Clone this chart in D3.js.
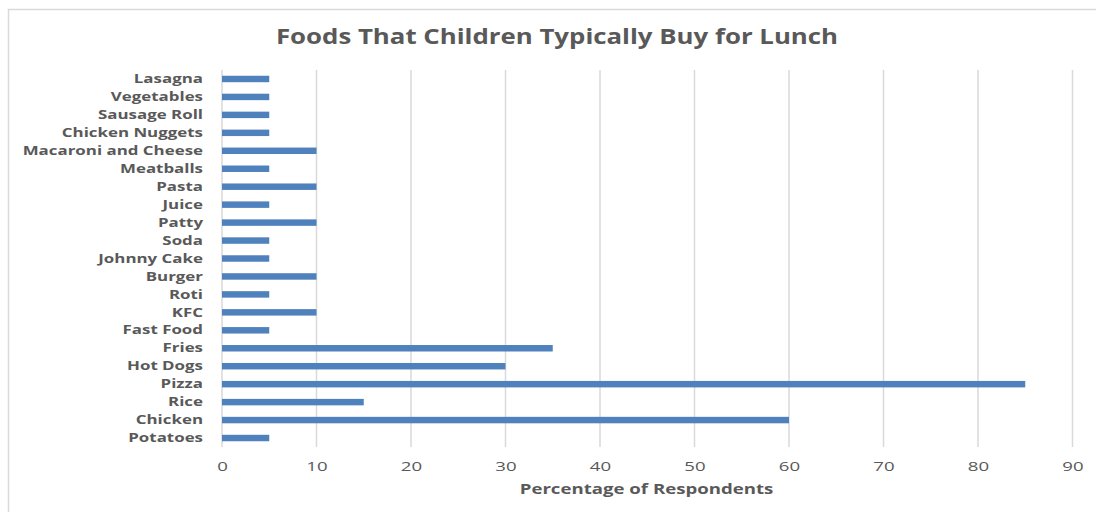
<!DOCTYPE html>
<html>
<head>
<meta charset="utf-8">
<script src="https://cdn.jsdelivr.net/npm/d3@7"></script>
<style>
  html, body { margin: 0; padding: 0; background: #fff; }
  svg { display: block; font-family: "Open Sans", sans-serif; }
</style>
</head>
<body>
<svg id="chart" width="1096" height="512"></svg>
<script>
// Foods children typically buy for lunch, top to bottom as listed
const categories = ["Lasagna", "Vegetables", "Sausage Roll", "Chicken Nuggets", "Macaroni and Cheese",
  "Meatballs", "Pasta", "Juice", "Patty", "Soda", "Johnny Cake", "Burger", "Roti", "KFC",
  "Fast Food", "Fries", "Hot Dogs", "Pizza", "Rice", "Chicken", "Potatoes"];
const percentages = [5, 5, 5, 5, 10, 5, 10, 5, 10, 5, 5, 10, 5, 10, 5, 35, 30, 85, 15, 60, 5];
const xTicks = [0, 10, 20, 30, 40, 50, 60, 70, 80, 90];
const chartTitle = "Foods That Children Typically Buy for Lunch";
const xTitle = "Percentage of Respondents";

const svg = d3.select("#chart");
const plotLeft = 222, plotRight = 1072.5, plotTop = 70, plotBottom = 447;
const textColor = "#595959";

// outer chart border
svg.append("rect")
  .attr("x", 8.5).attr("y", 9.5).attr("width", 1100).attr("height", 520)
  .attr("fill", "none").attr("stroke", "#d9d9d9").attr("stroke-width", 1.5);

const x = d3.scaleLinear().domain([0, 90]).range([plotLeft, plotRight]);
const y = d3.scaleBand().domain(categories).range([plotTop, plotBottom]).paddingInner(0.64).paddingOuter(0.32);

// vertical gridlines
svg.append("g").selectAll("line").data(xTicks).join("line")
  .attr("x1", d => x(d)).attr("x2", d => x(d))
  .attr("y1", plotTop).attr("y2", plotBottom)
  .attr("stroke", "#d9d9d9").attr("stroke-width", 1.5);

// bars
svg.append("g").selectAll("rect").data(categories).join("rect")
  .attr("x", x(0))
  .attr("y", d => y(d))
  .attr("width", (d, i) => x(percentages[i]) - x(0))
  .attr("height", y.bandwidth())
  .attr("fill", "#4f81bd");

// category axis (wide lettering)
const yAxis = svg.append("g")
  .attr("transform", `translate(${plotLeft - 19},0)`)
  .call(d3.axisLeft(y).tickSize(0).tickPadding(0));
yAxis.select(".domain").remove();
yAxis.selectAll("text")
  .attr("fill", textColor).attr("font-size", 13).attr("font-weight", 700)
  .attr("font-family", "Open Sans, sans-serif")
  .attr("transform", "scale(1.3,1)");

// value axis
const xAxis = svg.append("g")
  .attr("transform", `translate(0,${plotBottom})`)
  .call(d3.axisBottom(x).tickValues(xTicks).tickSize(0).tickPadding(14));
xAxis.select(".domain").remove();
xAxis.selectAll("text")
  .attr("fill", textColor).attr("font-size", 13.5)
  .attr("font-family", "Open Sans, sans-serif")
  .attr("transform", "scale(1.38,1)");

// titles
svg.append("g").attr("transform", "translate(557,44)")
  .append("text")
  .attr("text-anchor", "middle").attr("transform", "scale(1.26,1)")
  .attr("font-size", 20.5).attr("font-weight", 700).attr("fill", textColor)
  .text(chartTitle);

svg.append("g").attr("transform", "translate(646.5,494)")
  .append("text")
  .attr("text-anchor", "middle").attr("transform", "scale(1.33,1)")
  .attr("font-size", 14).attr("font-weight", 700).attr("fill", textColor)
  .text(xTitle);
</script>
</body>
</html>
